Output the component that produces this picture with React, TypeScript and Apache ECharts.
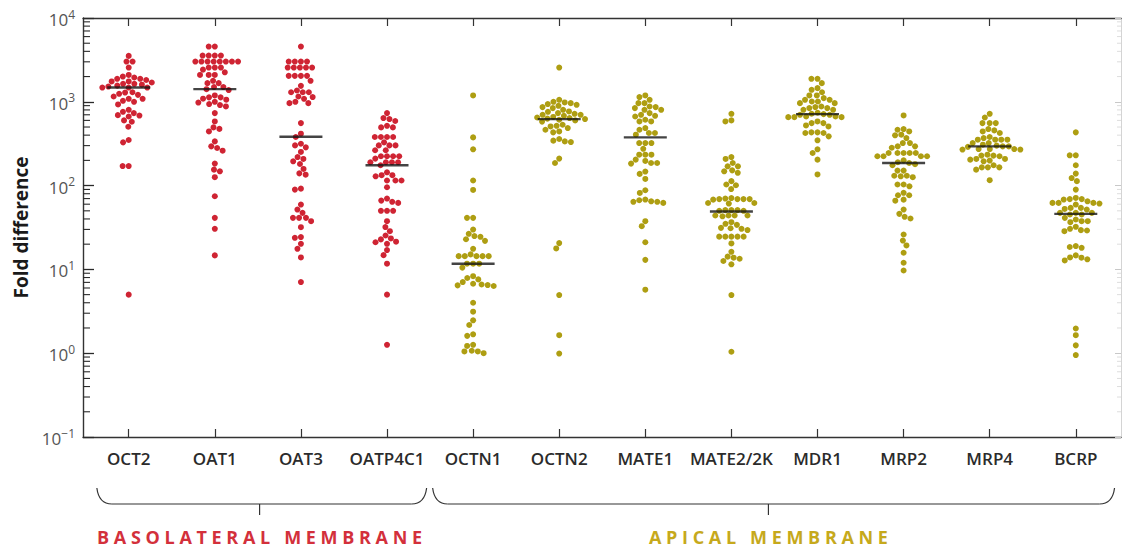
import React, { useEffect, useRef } from "react";
import * as echarts from "echarts";

const categories = ["OCT2", "OAT1", "OAT3", "OATP4C1", "OCTN1", "OCTN2", "MATE1", "MATE2/2K", "MDR1", "MRP2", "MRP4", "BCRP"];
const basolateralCount = 4;

const oct2 = [3530, 3020, 3020, 2560, 2090, 2000, 1950, 1880, 1880, 1820, 1750, 1750, 1700, 1640, 1640, 1600, 1560, 1520, 1480, 1480, 1480, 1290, 1300, 1245, 1210, 1157, 1086, 1086, 1028, 1000, 930, 803, 760, 733, 693, 685, 668, 600, 578, 504, 350, 328, 171, 171, 5.0];
const oat1 = [4560, 4560, 3560, 3560, 3560, 3560, 3020, 3020, 3020, 3020, 3020, 3020, 3020, 3020, 2560, 2560, 2560, 2420, 2250, 2090, 2090, 2090, 1780, 1670, 1670, 1500, 1500, 1415, 1380, 1190, 1130, 1090, 1060, 1130, 1000, 980, 940, 915, 880, 733, 583, 495, 475, 443, 337, 294, 281, 261, 183, 155, 148, 126, 74.6, 41.2, 30.5, 14.7];
const oat3 = [4560, 3020, 3020, 3020, 3020, 2560, 2560, 2560, 2560, 2560, 2040, 2040, 2040, 2040, 1780, 1550, 1365, 1300, 1300, 1300, 1157, 1140, 1086, 1000, 964, 964, 557, 416, 380, 316, 302, 286, 252, 219, 208, 195, 181, 158, 140, 135, 89.6, 92, 59.4, 51.8, 47.3, 41.2, 41.2, 41.2, 37.6, 31.9, 24.3, 23.8, 20.2, 17.6, 13.9, 7.06];
const oatp4c1 = [733, 640, 622, 590, 517, 495, 495, 380, 380, 380, 380, 328, 302, 302, 302, 264, 264, 224, 224, 224, 224, 210, 190, 190, 190, 190, 175, 144, 133, 133, 129, 115, 115, 115, 95.5, 70, 66.2, 64, 62.2, 50, 50, 50, 37.6, 32, 28.6, 25.4, 23.4, 22.8, 21.4, 21.1, 20.2, 17, 14.8, 11.7, 5.0, 1.26];
const octn1 = [1190, 376, 271, 115, 88.7, 41.2, 41.2, 29.9, 26.6, 25, 24.5, 22.9, 21.9, 17.6, 15.1, 14.4, 14.4, 14.4, 14.4, 14.4, 11.7, 11.7, 11.7, 10.5, 8.3, 7.9, 7.6, 7.06, 6.74, 6.6, 6.45, 6.34, 6.5, 4.0, 3.13, 2.47, 2.17, 1.68, 1.61, 1.26, 1.22, 1.07, 1.05, 1.05, 1.0];
const octn2 = [2560, 1057, 1000, 982, 964, 940, 920, 895, 864, 841, 803, 767, 760, 733, 719, 700, 699, 680, 660, 650, 640, 630, 622, 611, 600, 580, 532, 517, 508, 486, 464, 443, 432, 360, 344, 337, 331, 210, 186, 20.6, 17.8, 4.94, 1.64, 0.99];
const mate1 = [1190, 1138, 1057, 964, 964, 879, 864, 841, 803, 803, 733, 699, 681, 668, 611, 583, 583, 486, 464, 424, 424, 405, 322, 322, 322, 275, 197, 234, 234, 234, 204, 183, 186, 186, 147, 138, 120, 88, 81.8, 66.9, 64, 68.1, 65, 62.2, 64, 37.6, 32.8, 21.1, 13, 5.73];
const mate2 = [719, 583, 600, 219, 208, 170, 186, 170, 152, 142, 148, 113, 101, 91, 103, 69, 69, 70, 71, 69, 68, 69, 62, 62, 61, 51, 50, 51, 50, 51, 44, 44, 44, 44, 43, 36.6, 30.5, 31.3, 35, 34, 29.5, 31, 24.6, 24.6, 24.6, 24.6, 24.6, 20.4, 16.2, 14.2, 13.4, 11.5, 12.6, 13.8, 4.94, 1.04];
const mdr1 = [1880, 1880, 1670, 1455, 1390, 1300, 1190, 1190, 1107, 1057, 1057, 1009, 1009, 964, 964, 879, 864, 841, 841, 803, 803, 740, 720, 713, 699, 699, 668, 668, 656, 656, 656, 583, 557, 557, 522, 508, 432, 424, 424, 432, 387, 347, 271, 245, 204, 136];
const mrp2 = [687, 473, 464, 443, 405, 398, 369, 322, 322, 294, 294, 283, 245, 245, 245, 245, 245, 224, 224, 224, 224, 200, 190, 186, 180, 175, 151, 151, 131, 129, 131, 126, 103, 103, 98, 76.7, 76.7, 68, 66, 82, 51.8, 46, 42.4, 40.5, 26.1, 22.1, 19.3, 15.8, 12, 9.7];
const mrp4 = [719, 650, 557, 557, 557, 473, 443, 424, 456, 380, 369, 353, 353, 353, 353, 322, 322, 308, 300, 294, 294, 290, 273, 269, 273, 269, 273, 234, 228, 228, 224, 208, 199, 208, 204, 195, 165, 165, 155, 165, 175, 116];
const bcrp = [432, 230, 230, 175, 139, 123, 113, 89.6, 71.3, 68.1, 69, 69, 65, 62.2, 62.2, 61.1, 62.2, 59.4, 54.2, 52.7, 54.2, 51.8, 47.3, 45.2, 47.3, 45.2, 47.3, 41.2, 39.4, 37.6, 36.6, 37.6, 30.5, 29.1, 28.6, 29.4, 32.2, 19, 18.1, 18.5, 14.7, 13.9, 13.8, 13.2, 12.8, 1.97, 1.64, 1.24, 0.95];

const seriesValues = [oct2, oat1, oat3, oatp4c1, octn1, octn2, mate1, mate2, mdr1, mrp2, mrp4, bcrp];
const medians = [1480, 1415, 383, 175, 11.7, 622, 376, 49, 713, 186, 294, 46];

const minorMultipliers = [2, 3, 4, 5, 6, 7, 8, 9];
const decadeBases = [0.1, 1, 10, 100, 1000];

const groupLabels = ["B A S O L A T E R A L   M E M B R A N E", "A P I C A L   M E M B R A N E"];

const RED = "#cf2433";
const GOLD = "#ae9e12";

// layout constants
const GRID = { left: 83, right: 3, top: 18, bottom: 111 };
const W = 1124, H = 548;
const X_MIN = -0.531, X_MAX = 11.525;
const plotW = W - GRID.left - GRID.right;
const plotH = H - GRID.top - GRID.bottom;
const pxPerCat = plotW / (X_MAX - X_MIN);
const pxPerDecade = plotH / 5;
const DOT = 6.1;

function swarm(values: number[], idx: number): number[][] {
  const pts = values
    .map((v) => ({ v, y: Math.log10(v) * pxPerDecade }))
    .sort((a, b) => b.y - a.y);
  const placed: { x: number; y: number }[] = [];
  const out: number[][] = [];
  for (const p of pts) {
    const cands = [0];
    for (const q of placed) {
      const dy = p.y - q.y;
      if (Math.abs(dy) < DOT) {
        const dx = Math.sqrt(DOT * DOT - dy * dy);
        cands.push(q.x + dx, q.x - dx);
      }
    }
    cands.sort((a, b) => Math.abs(a) - Math.abs(b) || a - b);
    let chosen = 0;
    for (const c of cands) {
      let ok = true;
      for (const q of placed) {
        const dx = c - q.x, dy = p.y - q.y;
        if (dx * dx + dy * dy < DOT * DOT - 1e-6) { ok = false; break; }
      }
      if (ok) { chosen = c; break; }
    }
    placed.push({ x: chosen, y: p.y });
    out.push([idx + chosen / pxPerCat, p.v]);
  }
  return out;
}

const catIdx = categories.map((_, i) => i);
const minorTickValues: number[] = [];
decadeBases.forEach((b) => minorMultipliers.forEach((k) => minorTickValues.push(b * k)));

function xPix(v: number) { return GRID.left + (v - X_MIN) * pxPerCat; }

export default function App() {
  const ref = useRef<HTMLDivElement>(null);
  useEffect(() => {
    if (!ref.current) return;
    const chart = echarts.init(ref.current, undefined, { renderer: "svg" });
    const font = "'Open Sans', 'Noto Sans', sans-serif";

    const scatterSeries: any[] = seriesValues.map((vals, i) => ({
      type: "scatter",
      name: categories[i],
      xAxisIndex: 0,
      yAxisIndex: 0,
      symbol: "circle",
      symbolSize: 6,
      itemStyle: { color: i < basolateralCount ? RED : GOLD, opacity: 1 },
      data: swarm(vals, i),
      z: 3,
    }));
    const medianSeries = {
      type: "scatter",
      name: "median",
      xAxisIndex: 0,
      yAxisIndex: 0,
      symbol: "rect",
      symbolSize: [43, 2.4],
      itemStyle: { color: "#151515" },
      data: medians.map((m, i) => [i, m]),
      z: 5,
    };
    const minorTickSeries = {
      type: "custom",
      name: "minor ticks",
      xAxisIndex: 0,
      yAxisIndex: 0,
      clip: false,
      silent: true,
      data: minorTickValues.map((v) => [0, v]),
      renderItem: (params: any, api: any) => {
        const v = api.value(1);
        const pl = api.coord([X_MIN, v]);
        const pr = api.coord([X_MAX, v]);
        return {
          type: "group",
          children: [
            { type: "line", shape: { x1: pl[0], y1: pl[1], x2: pl[0] + 7, y2: pl[1] }, style: { stroke: "#2a2a2a", lineWidth: 1.1 } },
            { type: "line", shape: { x1: pr[0], y1: pr[1], x2: pr[0] - 4, y2: pr[1] }, style: { stroke: "#dddddd", lineWidth: 1 } },
          ],
        };
      },
      z: 6,
    };

    const braceY = 504, braceTop = 488, r = 15;
    const b1 = [xPix(-0.37), xPix(3.46)];
    const b2 = [xPix(3.53), xPix(11.45)];
    const mid1 = xPix(1.52), mid2 = xPix(7.43);
    const brace = (x0: number, x1: number, mid: number) => [
      { type: "bezierCurve", shape: { x1: x0, y1: braceTop, cpx1: x0 + 2, cpy1: braceY, x2: x0 + r, y2: braceY }, style: { stroke: "#333", lineWidth: 1.2, fill: null } },
      { type: "line", shape: { x1: x0 + r, y1: braceY, x2: x1 - r, y2: braceY }, style: { stroke: "#333", lineWidth: 1.2 } },
      { type: "bezierCurve", shape: { x1: x1 - r, y1: braceY, cpx1: x1 - 2, cpy1: braceY, x2: x1, y2: braceTop }, style: { stroke: "#333", lineWidth: 1.2, fill: null } },
      { type: "line", shape: { x1: mid, y1: braceY, x2: mid, y2: braceY + 11 }, style: { stroke: "#333", lineWidth: 1.2 } },
    ];

    const axisLineDark = { show: true, onZero: false, lineStyle: { color: "#333", width: 1.4 } };

    chart.setOption({
      animation: false,
      backgroundColor: "#ffffff",
      grid: { left: GRID.left, right: GRID.right, top: GRID.top, bottom: GRID.bottom, containLabel: false },
      xAxis: [
        {
          type: "value", position: "bottom", min: X_MIN, max: X_MAX,
          splitLine: { show: false },
          axisLine: axisLineDark,
          axisTick: { show: true, inside: true, length: 8, customValues: catIdx, lineStyle: { color: "#333", width: 1.2 } },
          axisLabel: {
            show: true, customValues: catIdx, margin: 13,
            formatter: (v: number) => categories[Math.round(v)] ?? "",
            color: "#2b2b2b", fontSize: 17, fontWeight: 600, fontFamily: font,
          },
        },
        {
          type: "value", position: "top", min: X_MIN, max: X_MAX,
          splitLine: { show: false },
          axisLine: axisLineDark,
          axisTick: { show: true, inside: true, length: 8, customValues: catIdx, lineStyle: { color: "#333", width: 1.2 } },
          axisLabel: { show: false },
        },
      ],
      yAxis: [
        {
          type: "log", logBase: 10, min: 0.1, max: 10000, position: "left",
          name: "Fold difference", nameLocation: "middle", nameRotate: 90, nameGap: 50,
          nameTextStyle: { fontSize: 19, fontWeight: "bold", color: "#1a1a1a", fontFamily: font },
          splitLine: { show: false },
          axisLine: axisLineDark,
          axisTick: { show: true, inside: true, length: 11, lineStyle: { color: "#2a2a2a", width: 1.3 } },
          axisLabel: {
            show: true, margin: 8, fontFamily: font,
            formatter: (v: number) => {
              const e = Math.round(Math.log10(v));
              return "{b|10}{s|" + (e < 0 ? "\u2212" + Math.abs(e) : String(e)) + "}";
            },
            rich: {
              b: { fontSize: 17, color: "#555", fontFamily: font, verticalAlign: "bottom" },
              s: { fontSize: 12, color: "#555", fontFamily: font, verticalAlign: "bottom", padding: [0, 0, 8, 0] },
            },
          },
        },
        {
          type: "log", logBase: 10, min: 0.1, max: 10000, position: "right",
          splitLine: { show: false },
          axisLine: { show: true, onZero: false, lineStyle: { color: "#d4d4d4", width: 1 } },
          axisTick: { show: true, inside: true, length: 6, lineStyle: { color: "#c8c8c8", width: 1 } },
          axisLabel: { show: false },
        },
      ],
      series: [...scatterSeries, medianSeries, minorTickSeries],
      graphic: [
        ...brace(b1[0], b1[1], mid1),
        ...brace(b2[0], b2[1], mid2),
        {
          type: "text", x: mid1, y: 537,
          style: { text: groupLabels[0], fill: "#d3303b", font: `bold 18px ${font}`, textAlign: "center", textVerticalAlign: "middle" },
        },
        {
          type: "text", x: mid2, y: 537,
          style: { text: groupLabels[1], fill: "#c6a91c", font: `bold 18px ${font}`, textAlign: "center", textVerticalAlign: "middle" },
        },
      ],
    });
    return () => chart.dispose();
  }, []);
  return <div ref={ref} style={{ position: "fixed", left: 0, top: 0, width: W, height: H }} />;
}
